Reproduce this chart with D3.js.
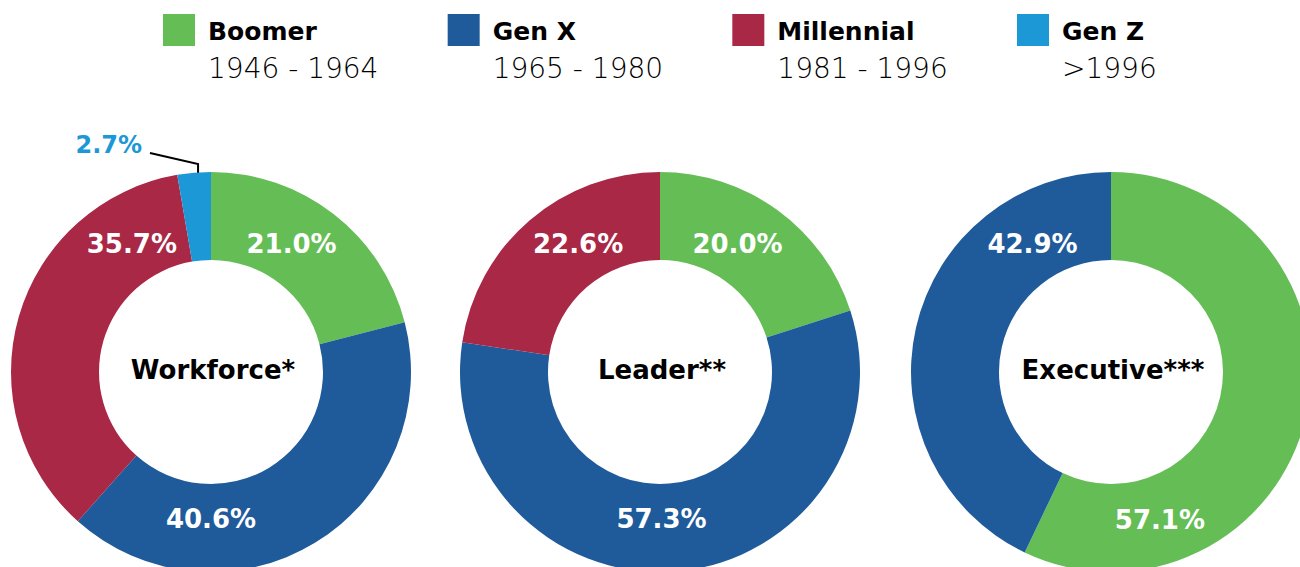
<!DOCTYPE html>
<html>
<head>
<meta charset="utf-8">
<script src="https://cdn.jsdelivr.net/npm/d3@7"></script>
<style>
  html, body { margin: 0; padding: 0; background: #fff; }
  svg { display: block; }
</style>
</head>
<body>
<svg id="chart" width="1300" height="567"></svg>
<script>
// ---- data ----
const generations = ["Boomer", "Gen X", "Millennial", "Gen Z"];
const generationYears = ["1946 - 1964", "1965 - 1980", "1981 - 1996", ">1996"];
const charts = ["Workforce*", "Leader**", "Executive***"];
const workforceValues = [21.0, 40.6, 35.7, 2.7];
const leaderValues = [20.0, 57.3, 22.6, 0];
const executiveValues = [57.1, 42.9, 0, 0];

// ---- styling / layout ----
const colors = ["#65bd56", "#1f5b9b", "#a82846", "#1c98d6"];
const W = 1300, H = 567;
const outerR = 200, innerR = 112;
const centersX = [211, 660, 1111];
const centerY = 372;
// label placement per chart per slice: [angle in degrees clockwise from top, radius]
const labelPlacement = [
  [[32.1, 151.6], [180, 146.5], [-31.6, 151], null],
  [[31.1, 150], [179.4, 146.5], [-32.5, 152.4], null],
  [[161.6, 155], [-31.4, 150.6], null, null]
];
const allValues = [workforceValues, leaderValues, executiveValues];

const svg = d3.select("#chart");
const boldFont = "'DejaVu Sans', sans-serif";

// ---- legend ----
const legendX = d3.scalePoint().domain(generations).range([163, 1017]);
const leg = svg.append("g").selectAll("g").data(generations).join("g")
  .attr("transform", d => `translate(${legendX(d)},14)`);
leg.append("rect").attr("width", 32).attr("height", 32)
  .attr("fill", (d, i) => colors[i]);
leg.append("text").attr("x", 45).attr("y", 26)
  .attr("font-family", boldFont).attr("font-weight", "bold").attr("font-size", 25)
  .attr("fill", "#000").text(d => d);
leg.append("text").attr("x", 45).attr("y", 64)
  .attr("font-family", boldFont).attr("font-weight", 200).attr("font-size", 28)
  .attr("fill", "#000").text((d, i) => generationYears[i]);

// ---- donuts ----
const pie = d3.pie().sort(null).value(d => d.value);
const arc = d3.arc().innerRadius(innerR).outerRadius(outerR);
const rad = a => a * Math.PI / 180;

charts.forEach((name, ci) => {
  const data = generations.map((g, i) => ({ gen: g, i, value: allValues[ci][i] }));
  const arcs = pie(data).filter(d => d.data.value > 0);
  const g = svg.append("g").attr("transform", `translate(${centersX[ci]},${centerY})`);

  g.selectAll("path").data(arcs).join("path")
    .attr("d", arc)
    .attr("fill", d => colors[d.data.i]);

  // inside labels
  arcs.forEach(d => {
    const p = labelPlacement[ci][d.data.i];
    if (!p) return;
    const x = p[1] * Math.sin(rad(p[0]));
    const y = -p[1] * Math.cos(rad(p[0]));
    g.append("text")
      .attr("x", x).attr("y", y + 9.5)
      .attr("text-anchor", "middle")
      .attr("font-family", boldFont).attr("font-weight", "bold").attr("font-size", 26)
      .attr("fill", "#fff")
      .text(d.data.value.toFixed(1) + "%");
  });

  // outside label for small slice (Gen Z)
  arcs.forEach(d => {
    if (labelPlacement[ci][d.data.i]) return;
    const mid = (d.startAngle + d.endAngle) / 2;
    const ex = (outerR) * Math.sin(mid) + 4;
    const ey = -outerR * Math.cos(mid);
    const topY = -208;
    const line = d3.line();
    g.append("path")
      .attr("d", line([[-61, -219], [ex, topY], [ex, ey]]))
      .attr("fill", "none").attr("stroke", "#000").attr("stroke-width", 2);
    g.append("text")
      .attr("x", -69).attr("y", -219)
      .attr("text-anchor", "end")
      .attr("font-family", boldFont).attr("font-weight", "bold").attr("font-size", 24)
      .attr("fill", colors[d.data.i])
      .text(d.data.value.toFixed(1) + "%");
  });

  // center label
  g.append("text")
    .attr("x", 2).attr("y", 7)
    .attr("text-anchor", "middle")
    .attr("font-family", boldFont).attr("font-weight", "bold").attr("font-size", 26)
    .attr("fill", "#000")
    .text(name);
});
</script>
</body>
</html>
